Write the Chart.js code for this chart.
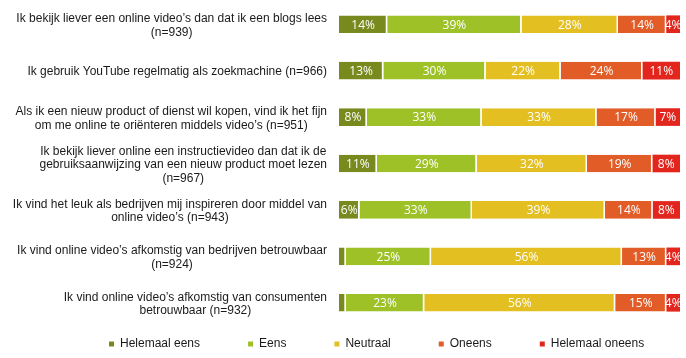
<!DOCTYPE html>
<html>
<head>
<meta charset="utf-8">
<script src="https://cdn.jsdelivr.net/npm/chart.js@4/dist/chart.umd.min.js"></script>
<style>
  html, body { margin: 0; padding: 0; background: #ffffff; }
  #wrap { width: 686px; height: 358px; position: relative; }
</style>
</head>
<body>
<div id="wrap"><canvas id="c"></canvas></div>
<script>
// ---- data ----
const categories = [
  ["Ik bekijk liever een online video’s dan dat ik een blogs lees", "(n=939)"],
  ["Ik gebruik YouTube regelmatig als zoekmachine (n=966)"],
  ["Als ik een nieuw product of dienst wil kopen, vind ik het fijn", "om me online te oriënteren middels video’s (n=951)"],
  ["Ik bekijk liever online een instructievideo dan dat ik de", "gebruiksaanwijzing van een nieuw product moet lezen", "(n=967)"],
  ["Ik vind het leuk als bedrijven mij inspireren door middel van", "online video’s (n=943)"],
  ["Ik vind online video’s afkomstig van bedrijven betrouwbaar", "(n=924)"],
  ["Ik vind online video’s afkomstig van consumenten", "betrouwbaar (n=932)"]
];
const seriesNames = ["Helemaal eens", "Eens", "Neutraal", "Oneens", "Helemaal oneens"];
const helemaalEens   = [14, 13, 8, 11, 6, 2, 2];
const eens           = [39, 30, 33, 29, 33, 25, 23];
const neutraal       = [28, 22, 33, 32, 39, 56, 56];
const oneens         = [14, 24, 17, 19, 14, 13, 15];
const helemaalOneens = [4, 11, 7, 8, 8, 4, 4];
const seriesColors = ["#788a1d", "#9dc127", "#e3bf22", "#e15c27", "#e2261e"];

// ---- build ----
const rawSeries = [helemaalEens, eens, neutraal, oneens, helemaalOneens];
const rowTotals = categories.map((_, i) => rawSeries.reduce((s, arr) => s + arr[i], 0));
const datasets = rawSeries.map((arr, k) => ({
  label: seriesNames[k],
  data: arr.map((v, i) => v / rowTotals[i] * 100),
  raw: arr,
  backgroundColor: seriesColors[k],
  borderColor: "#ffffff",
  borderWidth: { top: 0, bottom: 0, left: 0, right: k === rawSeries.length - 1 ? 0 : 1.5 },
  borderSkipped: false,
  categoryPercentage: 1,
  barPercentage: 0.38
}));

const LEFT_AXIS_W = 339;
const LABEL_RIGHT = 327;
const LEG_PAD = 48;

const catLabelPlugin = {
  id: "catLabels",
  afterDraw(chart) {
    const ctx = chart.ctx;
    const y = chart.scales.y;
    ctx.save();
    ctx.font = "12px 'Liberation Sans', Arial, sans-serif";
    ctx.fillStyle = "#1a1a1a";
    ctx.textAlign = "center";
    ctx.textBaseline = "middle";
    const lh = 13.5;
    categories.forEach((lines, i) => {
      const yc = y.getPixelForValue(i) + 1.5;
      const w = Math.max(...lines.map(l => ctx.measureText(l).width));
      const cx = LABEL_RIGHT - w / 2;
      const y0 = yc - (lines.length - 1) * lh / 2;
      lines.forEach((l, j) => ctx.fillText(l, cx, y0 + j * lh));
    });
    ctx.restore();
  }
};

const valueLabelPlugin = {
  id: "valueLabels",
  afterDatasetsDraw(chart) {
    const ctx = chart.ctx;
    ctx.save();
    ctx.font = "12px 'Open Sans', 'DejaVu Sans', sans-serif";
    ctx.fillStyle = "#ffffff";
    ctx.textAlign = "center";
    ctx.textBaseline = "middle";
    chart.data.datasets.forEach((ds, k) => {
      const meta = chart.getDatasetMeta(k);
      meta.data.forEach((bar, i) => {
        const v = ds.raw[i];
        if (v < 3) return;
        ctx.fillText(v + "%", (bar.x + bar.base) / 2, bar.y + 1);
      });
    });
    ctx.restore();
  }
};

const legendPosPlugin = {
  id: "legendPos",
  afterLayout(chart) {
    const lg = chart.legend;
    if (!lg) return;
    const fs = 12;
    lg.top = 344 - LEG_PAD - fs / 2;
    lg.bottom = chart.height;
    lg.height = lg.bottom - lg.top;
    lg.left = 109 - LEG_PAD;
    lg.right = chart.width + 200;
    lg.width = lg.right - lg.left;
  }
};

new Chart(document.getElementById("c"), {
  type: "bar",
  data: { labels: categories, datasets },
  options: {
    indexAxis: "y",
    responsive: true,
    maintainAspectRatio: false,
    animation: false,
    layout: { padding: { top: 1, right: 6, left: 0, bottom: 0 } },
    scales: {
      x: { stacked: true, min: 0, max: 100, display: false },
      y: {
        stacked: true,
        display: true,
        ticks: { display: false },
        grid: { display: false },
        border: { display: false },
        afterFit(scale) { scale.width = LEFT_AXIS_W; }
      }
    },
    plugins: {
      legend: {
        position: "bottom",
        align: "start",
        maxHeight: 32,
        labels: {
          boxWidth: 5,
          boxHeight: 5,
          padding: LEG_PAD,
          color: "#1a1a1a",
          font: { family: "'Liberation Sans', Arial, sans-serif", size: 12 },
          generateLabels(chart) {
            return chart.data.datasets.map((ds, i) => ({
              text: ds.label,
              fillStyle: ds.backgroundColor,
              strokeStyle: ds.backgroundColor,
              lineWidth: 0,
              fontColor: "#1a1a1a",
              hidden: false,
              datasetIndex: i
            }));
          }
        }
      },
      tooltip: { enabled: false }
    }
  },
  plugins: [catLabelPlugin, valueLabelPlugin, legendPosPlugin]
});
</script>
</body>
</html>
